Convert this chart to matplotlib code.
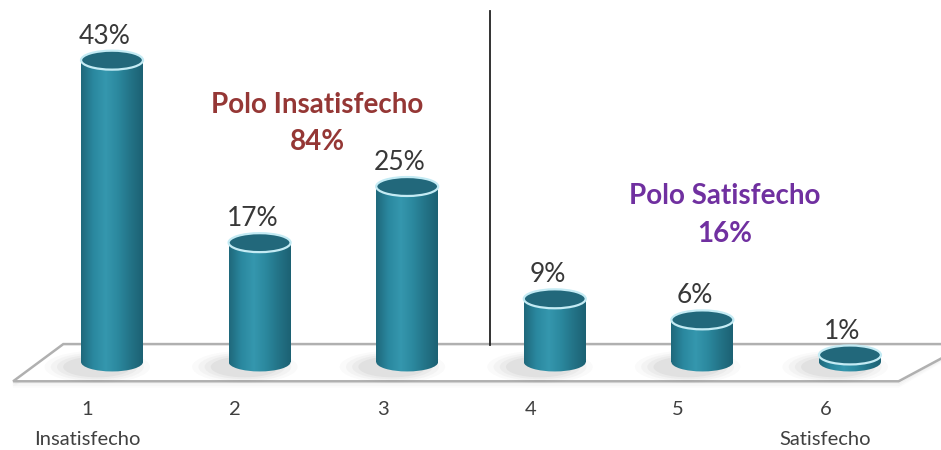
import numpy as np
import matplotlib
matplotlib.use("Agg")
import matplotlib.pyplot as plt
from matplotlib.patches import Ellipse, Rectangle, Polygon
from matplotlib.colors import LinearSegmentedColormap

# data
categories = ["1", "2", "3", "4", "5", "6"]
sublabels = ["Insatisfecho", "", "", "", "", "Satisfecho"]
values = [43, 17, 25, 9, 6, 1]
value_labels = ["43%", "17%", "25%", "9%", "6%", "1%"]
pole_names = ["Polo Insatisfecho", "Polo Satisfecho"]
pole_shares = ["84%", "16%"]

plt.rcParams['font.family'] = ['Lato', 'DejaVu Sans']

fig = plt.figure(figsize=(9.41, 4.5), dpi=100)
ax = fig.add_axes([0, 0, 1, 1])
ax.set_xlim(-0.759, 5.617)
ax.set_ylim(-12.54, 51.57)
ax.axis('off')

x = np.arange(len(values))
w = 0.42      # cylinder width (category units)
eh = 2.7      # ellipse height (percent units)

# floor
floor = Polygon([(-0.33, 2.55), (5.8, 2.55), (5.33, -2.75), (-0.67, -2.75)],
                closed=True, facecolor='white', edgecolor='#b0b0b0', lw=1.8, zorder=1)
ax.add_patch(floor)
for k, a in enumerate([0.08, 0.05, 0.03]):
    ax.add_patch(Polygon([(-0.33, 2.55 - 0.15 * k), (5.8, 2.55 - 0.15 * k),
                          (5.33, -2.75 - 0.25 * (k + 1)), (-0.67, -2.75 - 0.25 * (k + 1))],
                         closed=True, facecolor='none', edgecolor='#808080',
                         lw=1.5, alpha=a, zorder=0.9))

cmap = LinearSegmentedColormap.from_list(
    'cyl', ['#1f687b', '#2a889f', '#3597ae', '#2b889e', '#237387', '#1c6173'])
grad = np.linspace(0, 1, 256).reshape(1, -1)

for xi, v, lab in zip(x, values, value_labels):
    # soft shadow on the floor, falling to the lower left
    for s, a in [(1.7, 0.03), (1.5, 0.04), (1.3, 0.05), (1.1, 0.07)]:
        ax.add_patch(Ellipse((xi - 0.1, -0.7), w * s, eh * s,
                             facecolor='#606060', edgecolor='none', alpha=a, zorder=2))
    # body
    rect = Rectangle((xi - w / 2, 0), w, v, transform=ax.transData)
    im = ax.imshow(grad, cmap=cmap, aspect='auto',
                   extent=[xi - w / 2, xi + w / 2, -eh, v], zorder=3)
    im.set_clip_path(rect)
    base = Ellipse((xi, 0), w, eh, transform=ax.transData)
    im2 = ax.imshow(grad, cmap=cmap, aspect='auto',
                    extent=[xi - w / 2, xi + w / 2, -eh, v], zorder=3)
    im2.set_clip_path(base)
    # top
    ax.add_patch(Ellipse((xi, v), w, eh, facecolor='#22687b',
                         edgecolor='#c4ebf4', lw=1.6, zorder=4))
    ax.text(xi - 0.05, v + 3.4, lab, ha='center', va='center',
            fontsize=19, color='#383838', zorder=5)

# category labels
for xi, c, s in zip(x, categories, sublabels):
    ax.text(xi - 0.165, -6.8, c, ha='center', va='center', fontsize=14.5, color='#404040')
    if s:
        ax.text(xi - 0.165, -11.1, s, ha='center', va='center', fontsize=14.5, color='#404040')

# divider
ax.plot([2.56, 2.56], [2.45, 50.0], color='#222222', lw=1.3, zorder=1.5)

# pole annotations
ax.text(1.39, 36.6, pole_names[0], ha='center', va='center', fontsize=20,
        fontweight='bold', color='#953735')
ax.text(1.39, 31.4, pole_shares[0], ha='center', va='center', fontsize=20,
        fontweight='bold', color='#953735')
ax.text(4.153, 23.6, pole_names[1], ha='center', va='center', fontsize=20,
        fontweight='bold', color='#7030a0')
ax.text(4.153, 18.2, pole_shares[1], ha='center', va='center', fontsize=20,
        fontweight='bold', color='#7030a0')

fig.savefig('out.png', dpi=100, facecolor='white')
